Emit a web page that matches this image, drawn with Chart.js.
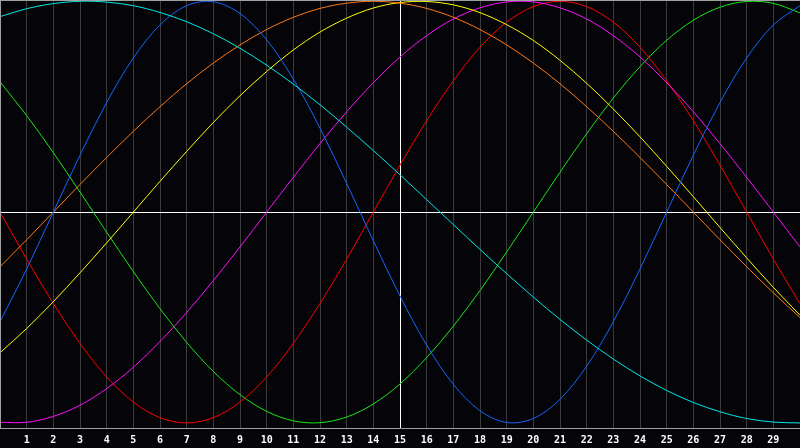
<!DOCTYPE html>
<html><head><meta charset="utf-8">
<script src="https://cdn.jsdelivr.net/npm/chart.js@4.4.1/dist/chart.umd.min.js"></script>
<style>html,body{margin:0;padding:0;background:#050409;overflow:hidden}</style>
</head><body>
<canvas id="c" width="800" height="448"></canvas>
<script>
const xValues = [0,1,2,3,4,5,6,7,8,9,10,11,12,13,14,15,16,17,18,19,20,21,22,23,24,25,26,27,28,29,30];
const cyanValues = [0.927,0.965,0.989,1.000,0.996,0.979,0.947,0.903,0.846,0.777,0.697,0.607,0.509,0.403,0.292,0.177,0.059,-0.059,-0.177,-0.292,-0.403,-0.509,-0.607,-0.697,-0.777,-0.846,-0.903,-0.947,-0.979,-0.996,-1.000];
const blueValues = [-0.520,-0.270,0,0.270,0.520,0.731,0.888,0.979,0.998,0.942,0.817,0.631,0.398,0.136,-0.136,-0.398,-0.631,-0.817,-0.942,-0.998,-0.979,-0.888,-0.731,-0.520,-0.270,0,0.270,0.520,0.731,0.888,0.979];
const orangeValues = [-0.259,-0.131,0,0.131,0.259,0.383,0.500,0.609,0.707,0.793,0.866,0.924,0.966,0.991,1.000,0.991,0.966,0.924,0.866,0.793,0.707,0.609,0.500,0.383,0.259,0.131,0,-0.131,-0.259,-0.383,-0.500];
const yellowValues = [-0.667,-0.552,-0.425,-0.288,-0.146,0,0.146,0.288,0.425,0.552,0.667,0.769,0.854,0.920,0.968,0.994,0.999,0.983,0.946,0.889,0.814,0.720,0.611,0.489,0.357,0.217,0.073,-0.073,-0.217,-0.357,-0.489];
const magentaValues = [-0.997,-0.997,-0.969,-0.916,-0.837,-0.736,-0.614,-0.476,-0.325,-0.165,0,0.165,0.325,0.476,0.614,0.736,0.837,0.916,0.969,0.997,0.997,0.969,0.916,0.837,0.736,0.614,0.476,0.325,0.165,0,-0.165];
const redValues = [0,-0.223,-0.434,-0.623,-0.782,-0.901,-0.975,-1.000,-0.975,-0.901,-0.782,-0.623,-0.434,-0.223,0,0.223,0.434,0.623,0.782,0.901,0.975,1.000,0.975,0.901,0.782,0.623,0.434,0.223,0,-0.223,-0.434];
const greenValues = [0.618,0.458,0.282,0.095,-0.095,-0.282,-0.458,-0.618,-0.756,-0.866,-0.945,-0.990,-0.999,-0.972,-0.910,-0.815,-0.690,-0.541,-0.372,-0.189,0,0.189,0.372,0.541,0.690,0.815,0.910,0.972,0.999,0.990,0.945];
const tickLabels = ['','1','2','3','4','5','6','7','8','9','10','11','12','13','14','15','16','17','18','19','20','21','22','23','24','25','26','27','28','29',''];

const series = [
  {name:'cyan', values:cyanValues, color:'#00e8e8'},
  {name:'blue', values:blueValues, color:'#1466ff'},
  {name:'orange', values:orangeValues, color:'#ff7a14'},
  {name:'yellow', values:yellowValues, color:'#ffff00'},
  {name:'magenta', values:magentaValues, color:'#ff10ff'},
  {name:'red', values:redValues, color:'#ff0000'},
  {name:'green', values:greenValues, color:'#18e818'}
];

const bgPlugin = {
  id:'bg',
  beforeDraw(chart){
    const c = chart.ctx;
    c.save(); c.fillStyle = '#050409'; c.fillRect(0,0,chart.width,chart.height); c.restore();
  },
  afterDraw(chart){
    const c = chart.ctx, a = chart.chartArea;
    c.save();
    c.strokeStyle = '#a0a0a0'; c.lineWidth = 1;
    c.beginPath();
    c.moveTo(a.left, a.top + 0.5); c.lineTo(a.right, a.top + 0.5);
    c.moveTo(a.left + 0.5, a.top); c.lineTo(a.left + 0.5, a.bottom);
    c.stroke();
    c.restore();
  }
};

new Chart(document.getElementById('c'), {
  type:'line',
  data:{
    datasets: series.map(s => ({
      label:s.name,
      data: xValues.map((x,i) => ({x:x, y:s.values[i]})),
      borderColor:s.color,
      borderWidth:1,
      pointRadius:0,
      pointHoverRadius:0,
      fill:false,
      tension:0.33
    }))
  },
  options:{
    responsive:false,
    devicePixelRatio:1,
    animation:false,
    layout:{padding:0, autoPadding:false},
    plugins:{legend:{display:false}, tooltip:{enabled:false}},
    scales:{
      x:{
        type:'linear', min:0, max:30,
        afterFit(s){ s.height = 20; s.paddingLeft = 0; s.paddingRight = 0; },
        ticks:{
          stepSize:1, autoSkip:false, maxRotation:0, minRotation:0,
          color:'#ffffff', padding:0,
          font:{family:'DejaVu Sans Mono', size:10, weight:'bold'},
          callback:(v) => tickLabels[v] !== undefined ? tickLabels[v] : ''
        },
        grid:{
          drawTicks:true,
          tickLength:6,
          tickColor:'rgba(0,0,0,0)',
          lineWidth:1,
          color:(ctx) => {
            const v = ctx.tick ? ctx.tick.value : null;
            if (v === 15) return '#ffffff';
            if (v === 0 || v === 30) return 'rgba(0,0,0,0)';
            return '#3c3c3c';
          }
        },
        border:{display:true, color:'#a0a0a0', width:1}
      },
      y:{
        min:-1.024, max:1.006,
        afterFit(s){ s.width = 0; },
        afterBuildTicks(axis){ axis.ticks = [{value:0}]; },
        ticks:{display:false},
        grid:{drawTicks:false, color:'#ffffff', lineWidth:1},
        border:{display:false}
      }
    }
  },
  plugins:[bgPlugin]
});
</script>
</body></html>
